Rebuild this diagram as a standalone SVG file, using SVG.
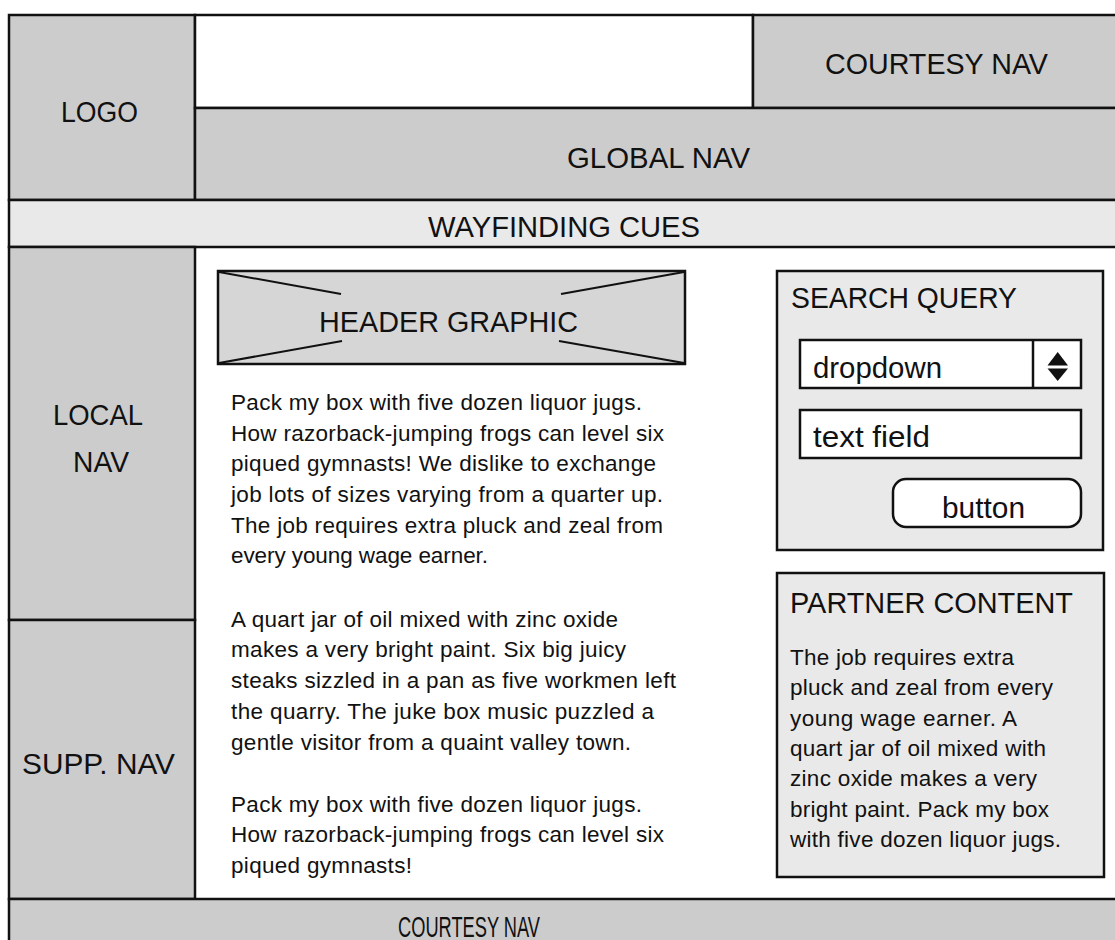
<svg xmlns="http://www.w3.org/2000/svg" width="1115" height="940" viewBox="0 0 1115 940">
<style>
.blk{stroke:#111;stroke-width:2.5;}
.dk{fill:#cccccc;}
.lt{fill:#e9e9e9;}
.wh{fill:#ffffff;}
.hd{font-family:"Liberation Sans",Arial,sans-serif;font-size:30px;fill:#111;}
.bd{font-family:"Liberation Sans",Arial,sans-serif;font-size:22.5px;fill:#111;}
.xl{stroke:#111;stroke-width:2;fill:none;}
</style>
<rect x="0" y="0" width="1115" height="940" fill="#ffffff"/>
<g id="logo">
<rect class="dk blk" x="9" y="15" width="186" height="185"/>
<text class="hd" x="61" y="122" textLength="77" lengthAdjust="spacingAndGlyphs">LOGO</text>
</g>
<g id="blank-top">
<rect class="wh blk" x="195" y="15" width="558" height="93"/>
</g>
<g id="courtesy-nav-top">
<rect class="dk blk" x="753" y="15" width="380" height="93"/>
<text class="hd" x="825" y="74" textLength="223" lengthAdjust="spacingAndGlyphs">COURTESY NAV</text>
</g>
<g id="global-nav">
<rect class="dk blk" x="195" y="108" width="940" height="92"/>
<text class="hd" x="567" y="168" textLength="183" lengthAdjust="spacingAndGlyphs">GLOBAL NAV</text>
</g>
<g id="wayfinding">
<rect class="lt blk" x="9" y="200" width="1126" height="47"/>
<text class="hd" x="428" y="237" textLength="272" lengthAdjust="spacingAndGlyphs">WAYFINDING CUES</text>
</g>
<g id="local-nav">
<rect class="dk blk" x="9" y="247" width="186" height="373"/>
<text class="hd" x="53" y="425" textLength="90" lengthAdjust="spacingAndGlyphs">LOCAL</text>
<text class="hd" x="73" y="472" textLength="56" lengthAdjust="spacingAndGlyphs">NAV</text>
</g>
<g id="supp-nav">
<rect class="dk blk" x="9" y="620" width="186" height="279"/>
<text class="hd" x="22" y="774" textLength="153" lengthAdjust="spacingAndGlyphs">SUPP. NAV</text>
</g>
<g id="courtesy-nav-bottom">
<rect class="dk blk" x="9" y="899" width="1126" height="60"/>
<text class="hd" x="398" y="937" textLength="142" lengthAdjust="spacingAndGlyphs">COURTESY NAV</text>
</g>
<g id="header-graphic">
<rect fill="#d6d6d6" class="blk" x="218" y="271" width="467" height="93"/>
<line class="xl" x1="219" y1="272" x2="341" y2="294"/>
<line class="xl" x1="219" y1="363" x2="342" y2="341"/>
<line class="xl" x1="684" y1="272" x2="561" y2="294"/>
<line class="xl" x1="684" y1="363" x2="559" y2="341"/>
<text class="hd" x="319" y="332" textLength="259" lengthAdjust="spacingAndGlyphs">HEADER GRAPHIC</text>
</g>
<g id="body-text">
<text class="bd" x="231" y="410" textLength="411" lengthAdjust="spacing">Pack my box with five dozen liquor jugs.</text>
<text class="bd" x="231" y="441" textLength="433" lengthAdjust="spacing">How razorback-jumping frogs can level six</text>
<text class="bd" x="231" y="471" textLength="425" lengthAdjust="spacing">piqued gymnasts! We dislike to exchange</text>
<text class="bd" x="231" y="502" textLength="432" lengthAdjust="spacing">job lots of sizes varying from a quarter up.</text>
<text class="bd" x="231" y="533" textLength="432" lengthAdjust="spacing">The job requires extra pluck and zeal from</text>
<text class="bd" x="231" y="563" textLength="257" lengthAdjust="spacing">every young wage earner.</text>
<text class="bd" x="231" y="627" textLength="387" lengthAdjust="spacing">A quart jar of oil mixed with zinc oxide</text>
<text class="bd" x="231" y="657" textLength="395" lengthAdjust="spacing">makes a very bright paint. Six big juicy</text>
<text class="bd" x="231" y="688" textLength="445" lengthAdjust="spacing">steaks sizzled in a pan as five workmen left</text>
<text class="bd" x="231" y="719" textLength="423" lengthAdjust="spacing">the quarry. The juke box music puzzled a</text>
<text class="bd" x="231" y="750" textLength="400" lengthAdjust="spacing">gentle visitor from a quaint valley town.</text>
<text class="bd" x="231" y="812" textLength="411" lengthAdjust="spacing">Pack my box with five dozen liquor jugs.</text>
<text class="bd" x="231" y="842" textLength="433" lengthAdjust="spacing">How razorback-jumping frogs can level six</text>
<text class="bd" x="231" y="873" textLength="181" lengthAdjust="spacing">piqued gymnasts!</text>
</g>
<g id="search-query">
<rect class="lt blk" x="777" y="271" width="326" height="279"/>
<text class="hd" x="791" y="308" textLength="226" lengthAdjust="spacingAndGlyphs">SEARCH QUERY</text>
<g id="dropdown">
<rect class="wh blk" x="800" y="340" width="281" height="48"/>
<line class="blk" x1="1033" y1="340" x2="1033" y2="388"/>
<polygon fill="#111" points="1047.5,365.5 1068,365.5 1057.7,352"/>
<polygon fill="#111" points="1047.5,368.5 1068,368.5 1057.7,381"/>
<text class="hd" x="813" y="378" textLength="129" lengthAdjust="spacingAndGlyphs">dropdown</text>
</g>
<g id="text-field">
<rect class="wh blk" x="800" y="410" width="281" height="48"/>
<text class="hd" x="813" y="447" textLength="117" lengthAdjust="spacingAndGlyphs">text field</text>
</g>
<g id="button">
<rect class="wh blk" x="893" y="479" width="188" height="48" rx="13" ry="13"/>
<text class="hd" x="942" y="518" textLength="83" lengthAdjust="spacingAndGlyphs">button</text>
</g>
</g>
<g id="partner-content">
<rect class="lt blk" x="777" y="573" width="327" height="304"/>
<text class="hd" x="790" y="613" textLength="283" lengthAdjust="spacingAndGlyphs">PARTNER CONTENT</text>
<text class="bd" x="790" y="665" textLength="224" lengthAdjust="spacing">The job requires extra</text>
<text class="bd" x="790" y="695" textLength="263" lengthAdjust="spacing">pluck and zeal from every</text>
<text class="bd" x="790" y="726" textLength="227" lengthAdjust="spacing">young wage earner. A</text>
<text class="bd" x="790" y="756" textLength="256" lengthAdjust="spacing">quart jar of oil mixed with</text>
<text class="bd" x="790" y="786" textLength="247" lengthAdjust="spacing">zinc oxide makes a very</text>
<text class="bd" x="790" y="817" textLength="259" lengthAdjust="spacing">bright paint. Pack my box</text>
<text class="bd" x="790" y="847" textLength="271" lengthAdjust="spacing">with five dozen liquor jugs.</text>
</g>
<g id="connectors"></g>
</svg>
